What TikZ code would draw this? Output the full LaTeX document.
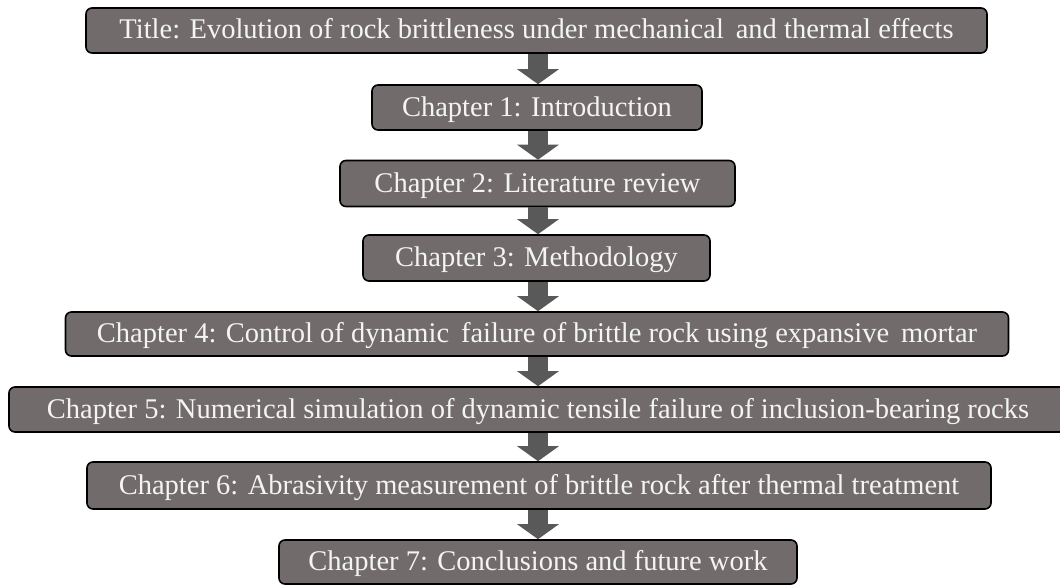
\documentclass[tikz,border=0pt]{standalone}
\usepackage{fontspec}
\setmainfont{Liberation Serif}
\usetikzlibrary{arrows.meta}
\definecolor{boxfill}{HTML}{716C6B}
\definecolor{arrowfill}{HTML}{595959}
\definecolor{boxtext}{HTML}{F4F4F4}
\begin{document}
\begin{tikzpicture}[x=1pt,y=-1pt,
  chapbox/.style={draw=black, line width=1.6pt, fill=boxfill, rounded corners=6pt,
    text=boxtext, font=\fontsize{28.5}{30}\selectfont, inner sep=0pt, minimum height=45pt,
    text height=23pt, text depth=6pt},
  blockarrow/.style={draw=arrowfill, line width=20pt,
    -{Triangle[width=41pt,length=15pt,fill=arrowfill]}}]
\useasboundingbox (0,0) rectangle (1060,586);
\clip (0,0) rectangle (1060,586);
\fill[white] (0,0) rectangle (1060,586);
\coordinate (ax) at (538,0);
\node[chapbox, minimum width=901pt] (t) at (536.5,30.5) {Title: Evolution of rock brittleness under mechanical\, and thermal effects};
\node[chapbox, minimum width=330pt] (c1) at (537,107.5) {Chapter 1: Introduction};
\node[chapbox, minimum width=395pt, minimum height=46pt] (c2) at (537.5,183.5) {Chapter 2: Literature review};
\node[chapbox, minimum width=347pt, minimum height=46pt] (c3) at (536.5,258) {Chapter 3: Methodology};
\node[chapbox, minimum width=943pt, minimum height=44pt] (c4) at (537,334) {Chapter 4: Control of dynamic\, failure of brittle rock using expansive\, mortar};
\node[chapbox, minimum width=1058pt, minimum height=45pt] (c5) at (538,409.5) {Chapter 5: Numerical simulation of dynamic tensile failure of inclusion-bearing rocks};
\node[chapbox, minimum width=904pt, minimum height=47pt] (c6) at (539,485.5) {Chapter 6: Abrasivity measurement of brittle rock after thermal treatment};
\node[chapbox, minimum width=518pt, minimum height=44pt] (c7) at (538,562) {Chapter 7: Conclusions and future work};
\foreach \a/\b in {t/c1,c1/c2,c2/c3,c3/c4,c4/c5,c5/c6,c6/c7}
  \draw[blockarrow] (\a.south -| ax) -- (\b.north -| ax);
\end{tikzpicture}
\end{document}
